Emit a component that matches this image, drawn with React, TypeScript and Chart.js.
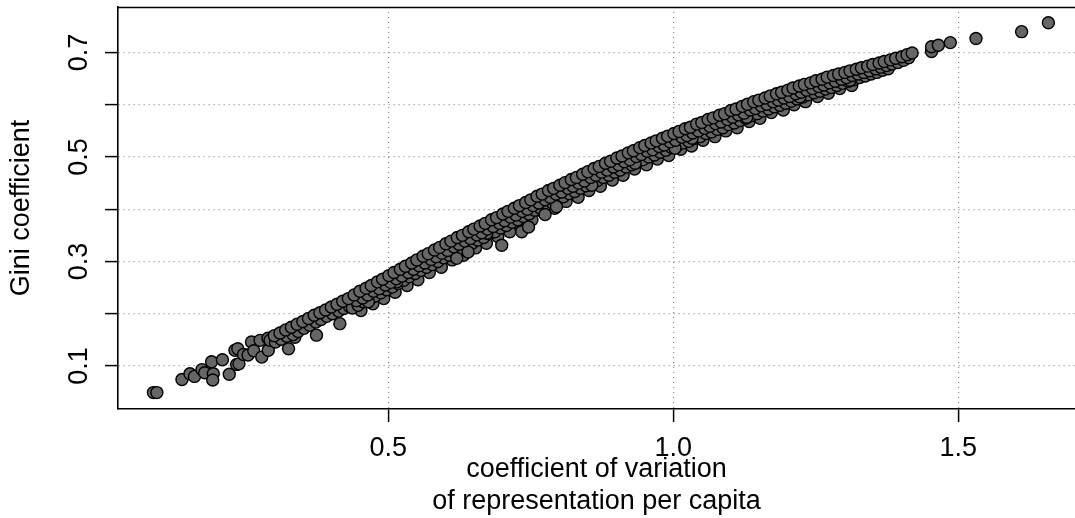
import React, { useEffect, useRef } from 'react';
import { Chart, registerables } from 'chart.js';

Chart.register(...registerables);

// ---- axis setup ----
const xTickValues = [0.5, 1.0, 1.5];
const xTickLabels = ['0.5', '1.0', '1.5'];
const yTickValues = [0.1, 0.2, 0.3, 0.4, 0.5, 0.6, 0.7];
const yTickLabels = ['0.1', '', '0.3', '', '0.5', '', '0.7'];
const xLimits = [0.0258, 1.7047];
const yLimits = [0.0176, 0.7872];
const xTitle = ['coefficient of variation', 'of representation per capita'];
const yTitle = 'Gini coefficient';

// ---- data: [coefficient of variation, Gini coefficient] ----
const lowerTail: [number, number][] = [
  [0.088, 0.049], [0.094, 0.049], [0.138, 0.074], [0.152, 0.085], [0.160, 0.080], [0.173, 0.093],
  [0.178, 0.087], [0.190, 0.108], [0.193, 0.085], [0.192, 0.073], [0.209, 0.112], [0.221, 0.084],
  [0.231, 0.130], [0.236, 0.133], [0.234, 0.103], [0.238, 0.104], [0.246, 0.122], [0.254, 0.121],
  [0.260, 0.146], [0.264, 0.129], [0.278, 0.117], [0.275, 0.149], [0.289, 0.153], [0.2895, 0.130],
  [0.2925, 0.149], [0.313, 0.163], [0.325, 0.133], [0.336, 0.155], [0.345, 0.174],
];

const bandDeep: [number, number][] = [
  [0.452, 0.206], [0.473, 0.219], [0.492, 0.229], [0.512, 0.241], [0.533, 0.254], [0.552, 0.265],
  [0.572, 0.279], [0.593, 0.289], [0.612, 0.303], [0.632, 0.312], [0.653, 0.326], [0.672, 0.335],
  [0.692, 0.348], [0.713, 0.357], [0.732, 0.371], [0.752, 0.380], [0.773, 0.393], [0.792, 0.402],
  [0.812, 0.415], [0.833, 0.423], [0.852, 0.436], [0.872, 0.444], [0.893, 0.456], [0.912, 0.465],
  [0.932, 0.477], [0.953, 0.485], [0.972, 0.496], [0.992, 0.503], [1.013, 0.515], [1.032, 0.521],
  [1.052, 0.532], [1.073, 0.539], [1.092, 0.550], [1.112, 0.556], [1.133, 0.568], [1.152, 0.574],
  [1.172, 0.585], [1.193, 0.590], [1.212, 0.600], [1.232, 0.606], [1.253, 0.616], [1.272, 0.622],
  [1.292, 0.631], [1.313, 0.637],
];

const bandLower: [number, number][] = [
  [0.302, 0.146], [0.312, 0.151], [0.322, 0.157], [0.333, 0.160], [0.342, 0.166], [0.352, 0.172],
  [0.362, 0.178], [0.373, 0.184], [0.382, 0.189], [0.392, 0.195], [0.402, 0.200], [0.413, 0.205],
  [0.422, 0.210], [0.432, 0.214], [0.437, 0.211], [0.447, 0.216], [0.456, 0.223], [0.468, 0.228],
  [0.477, 0.234], [0.487, 0.240], [0.497, 0.246], [0.507, 0.251], [0.517, 0.258], [0.527, 0.264],
  [0.537, 0.271], [0.547, 0.277], [0.557, 0.283], [0.567, 0.289], [0.577, 0.294], [0.587, 0.300],
  [0.597, 0.307], [0.607, 0.312], [0.617, 0.319], [0.627, 0.323], [0.637, 0.330], [0.647, 0.335],
  [0.657, 0.341], [0.667, 0.346], [0.677, 0.353], [0.687, 0.357], [0.697, 0.364], [0.707, 0.369],
  [0.717, 0.375], [0.727, 0.380], [0.737, 0.386], [0.747, 0.391], [0.757, 0.398], [0.767, 0.402],
  [0.777, 0.409], [0.787, 0.413], [0.797, 0.419], [0.807, 0.424], [0.817, 0.430], [0.827, 0.434],
  [0.837, 0.440], [0.847, 0.445], [0.857, 0.451], [0.867, 0.455], [0.877, 0.461], [0.887, 0.465],
  [0.897, 0.471], [0.907, 0.475], [0.917, 0.481], [0.927, 0.485], [0.937, 0.491], [0.947, 0.495],
  [0.957, 0.500], [0.967, 0.504], [0.977, 0.509], [0.987, 0.513], [0.997, 0.518], [1.007, 0.522],
  [1.017, 0.527], [1.027, 0.530], [1.037, 0.536], [1.047, 0.539], [1.057, 0.545], [1.067, 0.548],
  [1.077, 0.553], [1.087, 0.556], [1.097, 0.562], [1.107, 0.565], [1.117, 0.570], [1.127, 0.574],
  [1.137, 0.579], [1.147, 0.583], [1.157, 0.588], [1.167, 0.592], [1.177, 0.596], [1.187, 0.599],
  [1.197, 0.603], [1.207, 0.607], [1.217, 0.611], [1.227, 0.615], [1.237, 0.619], [1.247, 0.623],
  [1.257, 0.626], [1.267, 0.630], [1.277, 0.633], [1.287, 0.637], [1.297, 0.641], [1.307, 0.645],
  [1.317, 0.648], [1.327, 0.652], [1.337, 0.655], [1.347, 0.659], [1.357, 0.662], [1.367, 0.666],
  [1.377, 0.669],
];

const stragglers: [number, number][] = [
  [0.374, 0.159], [0.415, 0.181], [0.465, 0.223], [0.515, 0.261], [0.620, 0.306], [0.640, 0.318],
  [0.673, 0.354], [0.699, 0.331], [0.734, 0.357], [0.746, 0.366], [0.775, 0.390], [0.795, 0.405],
  [0.857, 0.446], [0.933, 0.488], [1.003, 0.517], [1.033, 0.536], [1.129, 0.576], [1.222, 0.615],
  [1.310, 0.647],
];

const bandMiddle: [number, number][] = [
  [0.444, 0.225], [0.455, 0.230], [0.464, 0.236], [0.474, 0.243], [0.484, 0.248], [0.495, 0.255],
  [0.504, 0.260], [0.514, 0.267], [0.524, 0.272], [0.535, 0.279], [0.544, 0.285], [0.554, 0.292],
  [0.564, 0.297], [0.575, 0.304], [0.584, 0.309], [0.594, 0.316], [0.604, 0.321], [0.615, 0.328],
  [0.624, 0.333], [0.634, 0.339], [0.644, 0.344], [0.655, 0.351], [0.664, 0.355], [0.674, 0.362],
  [0.684, 0.367], [0.695, 0.373], [0.704, 0.378], [0.714, 0.385], [0.724, 0.389], [0.735, 0.396],
  [0.744, 0.400], [0.754, 0.407], [0.764, 0.412], [0.775, 0.418], [0.784, 0.423], [0.794, 0.429],
  [0.804, 0.433], [0.815, 0.440], [0.824, 0.444], [0.834, 0.450], [0.844, 0.454], [0.855, 0.461],
  [0.864, 0.465], [0.874, 0.471], [0.884, 0.475], [0.895, 0.481], [0.904, 0.485], [0.914, 0.491],
  [0.924, 0.495], [0.935, 0.501], [0.944, 0.505], [0.954, 0.511], [0.964, 0.514], [0.975, 0.520],
  [0.984, 0.523], [0.994, 0.529], [1.004, 0.532], [1.015, 0.538], [1.024, 0.541], [1.034, 0.546],
  [1.044, 0.550], [1.055, 0.555], [1.064, 0.559], [1.074, 0.564], [1.084, 0.567], [1.095, 0.572],
  [1.104, 0.576], [1.114, 0.581], [1.124, 0.584], [1.135, 0.590], [1.144, 0.593], [1.154, 0.598],
  [1.164, 0.601], [1.175, 0.606], [1.184, 0.609], [1.194, 0.613], [1.204, 0.616], [1.215, 0.621],
  [1.224, 0.624], [1.234, 0.628], [1.244, 0.631], [1.255, 0.635], [1.264, 0.638], [1.274, 0.642],
  [1.284, 0.645], [1.295, 0.649], [1.304, 0.652], [1.314, 0.656], [1.324, 0.659], [1.334, 0.662],
  [1.344, 0.665], [1.355, 0.669], [1.364, 0.672], [1.374, 0.675], [1.384, 0.678], [1.394, 0.681],
  [1.404, 0.685], [1.413, 0.690],
];

const bandUpper: [number, number][] = [
  [0.300, 0.158], [0.310, 0.163], [0.320, 0.169], [0.330, 0.174], [0.340, 0.180], [0.350, 0.185],
  [0.360, 0.191], [0.370, 0.197], [0.380, 0.202], [0.390, 0.207], [0.400, 0.213], [0.410, 0.218],
  [0.420, 0.224], [0.430, 0.229], [0.440, 0.236], [0.450, 0.243], [0.461, 0.249], [0.470, 0.254],
  [0.481, 0.261], [0.490, 0.266], [0.501, 0.273], [0.510, 0.279], [0.521, 0.285], [0.530, 0.291],
  [0.541, 0.297], [0.550, 0.303], [0.561, 0.310], [0.570, 0.315], [0.581, 0.322], [0.590, 0.327],
  [0.601, 0.334], [0.610, 0.339], [0.621, 0.346], [0.630, 0.350], [0.641, 0.357], [0.650, 0.362],
  [0.661, 0.368], [0.670, 0.373], [0.681, 0.380], [0.690, 0.384], [0.701, 0.391], [0.710, 0.396],
  [0.721, 0.402], [0.730, 0.407], [0.741, 0.413], [0.750, 0.418], [0.761, 0.425], [0.770, 0.429],
  [0.781, 0.436], [0.790, 0.440], [0.801, 0.446], [0.810, 0.451], [0.821, 0.457], [0.830, 0.461],
  [0.841, 0.467], [0.850, 0.472], [0.861, 0.478], [0.870, 0.482], [0.881, 0.488], [0.890, 0.492],
  [0.901, 0.498], [0.910, 0.502], [0.921, 0.508], [0.930, 0.512], [0.941, 0.518], [0.950, 0.522],
  [0.961, 0.527], [0.970, 0.531], [0.981, 0.536], [0.990, 0.540], [1.001, 0.545], [1.010, 0.549],
  [1.021, 0.554], [1.030, 0.557], [1.041, 0.563], [1.050, 0.566], [1.061, 0.572], [1.070, 0.575],
  [1.081, 0.580], [1.090, 0.583], [1.101, 0.589], [1.110, 0.592], [1.121, 0.597], [1.130, 0.601],
  [1.141, 0.606], [1.150, 0.609], [1.161, 0.613], [1.170, 0.617], [1.181, 0.621], [1.190, 0.624],
  [1.201, 0.628], [1.210, 0.632], [1.221, 0.636], [1.230, 0.639], [1.241, 0.642], [1.250, 0.646],
  [1.261, 0.649], [1.270, 0.653], [1.281, 0.656], [1.290, 0.659], [1.301, 0.662], [1.310, 0.665],
  [1.321, 0.668], [1.330, 0.671], [1.341, 0.674], [1.350, 0.677], [1.361, 0.680], [1.370, 0.683],
  [1.381, 0.686], [1.390, 0.689], [1.401, 0.692], [1.410, 0.696], [1.419, 0.699],
];

const upperTail: [number, number][] = [
  [1.453, 0.702], [1.453, 0.711], [1.465, 0.714], [1.486, 0.719], [1.531, 0.727], [1.611, 0.740],
  [1.658, 0.757],
];

const FONT = "'Liberation Sans', Arial, Helvetica, sans-serif";
const FONT_SIZE = 27;

const topBorder = {
  id: 'topBorder',
  afterDraw(chart: any) {
    const { ctx, chartArea } = chart;
    ctx.save();
    ctx.strokeStyle = '#000';
    ctx.lineWidth = 1.6;
    ctx.beginPath();
    ctx.moveTo(chartArea.left - 0.8, Math.round(chartArea.top) + 0.5);
    ctx.lineTo(chartArea.right + 10, Math.round(chartArea.top) + 0.5);
    ctx.stroke();
    ctx.restore();
  },
};

export default function App() {
  const ref = useRef<HTMLCanvasElement | null>(null);

  useEffect(() => {
    const canvas = ref.current;
    if (!canvas) return;
    const all = [
      ...lowerTail, ...bandDeep, ...bandLower, ...stragglers, ...bandMiddle, ...bandUpper, ...upperTail,
    ];
    const gridOpts = {
      color: '#8a8a8a',
      lineWidth: 1.2,
      drawTicks: true,
      tickLength: 13,
      tickColor: '#000',
      tickWidth: 1.5,
      tickBorderDash: [],
    };
    const chart = new Chart(canvas, {
      type: 'scatter',
      data: {
        datasets: [
          {
            data: all.map(([x, y]) => ({ x, y })),
            backgroundColor: '#666666',
            borderColor: '#000000',
            borderWidth: 1.4,
            pointRadius: 6,
            pointHoverRadius: 6,
          },
        ],
      },
      options: {
        responsive: false,
        animation: false,
        devicePixelRatio: 1,
        layout: { autoPadding: false, padding: { top: 7, right: 0, bottom: 0, left: 0 } },
        plugins: { legend: { display: false }, tooltip: { enabled: false } },
        scales: {
          x: {
            type: 'linear',
            min: xLimits[0],
            max: xLimits[1],
            afterBuildTicks: (scale: any) => {
              scale.ticks = xTickValues.map((v) => ({ value: v }));
            },
            afterFit: (scale: any) => {
              scale.height = 109;
              scale.paddingLeft = 0;
              scale.paddingRight = 0;
            },
            ticks: {
              color: '#000',
              font: { family: FONT, size: FONT_SIZE },
              padding: 10,
              maxRotation: 0,
              minRotation: 0,
              autoSkip: false,
              callback: (_v: any, i: number) => xTickLabels[i],
            },
            grid: gridOpts,
            border: { display: true, color: '#000', width: 1.6, dash: [1, 4] },
            title: {
              display: true,
              text: xTitle,
              color: '#000',
              font: { family: FONT, size: FONT_SIZE, lineHeight: 1.2 },
              padding: { top: 0, bottom: 0 },
            },
          },
          y: {
            type: 'linear',
            min: yLimits[0],
            max: yLimits[1],
            afterBuildTicks: (scale: any) => {
              scale.ticks = yTickValues.map((v) => ({ value: v }));
            },
            afterFit: (scale: any) => {
              scale.width = 118;
              scale.paddingTop = 0;
              scale.paddingBottom = 0;
            },
            ticks: {
              color: '#000',
              font: { family: FONT, size: FONT_SIZE },
              padding: 7,
              minRotation: 90,
              maxRotation: 90,
              crossAlign: 'center',
              autoSkip: false,
              callback: (_v: any, i: number) => yTickLabels[i],
            },
            grid: gridOpts,
            border: { display: true, color: '#000', width: 1.6, dash: [1, 4] },
            title: {
              display: true,
              text: yTitle,
              color: '#000',
              font: { family: FONT, size: FONT_SIZE, lineHeight: 1.22 },
              padding: { top: 5, bottom: 0 },
            },
          },
        },
      },
      plugins: [topBorder],
    });
    return () => chart.destroy();
  }, []);

  return (
    <div style={{ position: 'fixed', left: 0, top: 0, width: 1075, height: 518, overflow: 'hidden', background: '#fff' }}>
      <canvas ref={ref} width={1075} height={518} style={{ width: 1075, height: 518, display: 'block' }} />
    </div>
  );
}
